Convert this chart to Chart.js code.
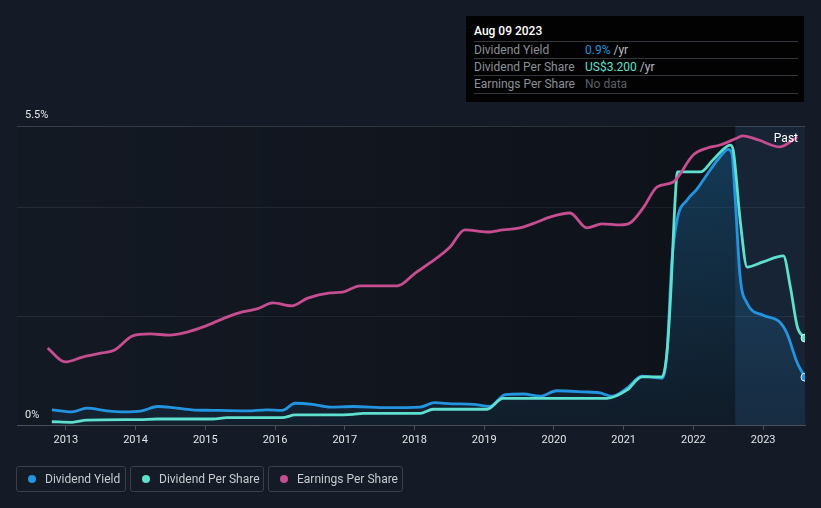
<!DOCTYPE html>
<html>
<head>
<meta charset="utf-8">
<script src="https://cdn.jsdelivr.net/npm/chart.js@4.4.0/dist/chart.umd.min.js"></script>
<style>
  html, body { margin: 0; padding: 0; background: #151b26; }
  body { width: 821px; height: 508px; position: relative; overflow: hidden; font-family: Roboto, "Open Sans", sans-serif; }
  #wrap { position: absolute; left: 0; top: 0; width: 821px; height: 508px; }
  .tip { position: absolute; left: 466px; top: 16px; width: 338px; height: 86px; background: #020203; }
  .tip .title { position: absolute; left: 8px; top: 8px; color: #fff; font-size: 12px; font-weight: 500; }
  .tip .row { position: absolute; left: 8px; width: 324px; height: 17px; border-top: 1px solid #34373d; font-size: 12px; line-height: 17px; }
  .tip .lab { position: absolute; left: 0; color: #8c9098; }
  .tip .val { position: absolute; left: 111px; color: #b9bdc4; }
  .leg { position: absolute; top: 466px; height: 26px; border: 1px solid #3a3f49; border-radius: 3px; box-sizing: border-box; color: #c6cad0; font-size: 12px; line-height: 24px; }
  .leg i { position: absolute; left: 11px; top: 8px; width: 8px; height: 8px; border-radius: 50%; }
  .leg span { position: absolute; left: 28px; white-space: nowrap; }
</style>
</head>
<body>
<div id="wrap"><canvas id="mycanvas" width="821" height="508"></canvas></div>

<div class="tip">
  <div class="title">Aug 09 2023</div>
  <div class="row" style="top:25px"><span class="lab">Dividend Yield</span><span class="val"><b style="font-weight:400;color:#2394df">0.9%</b> /yr</span></div>
  <div class="row" style="top:42px"><span class="lab">Dividend Per Share</span><span class="val"><b style="font-weight:400;color:#5fe0cf">US$3.200</b> /yr</span></div>
  <div class="row" style="top:59px;border-bottom:1px solid #34373d"><span class="lab">Earnings Per Share</span><span class="val" style="color:#5b5f67">No data</span></div>
</div>

<div class="leg" style="left:16px;width:110px"><i style="background:#2394df"></i><span>Dividend Yield</span></div>
<div class="leg" style="left:130px;width:134px"><i style="background:#5fe0cf"></i><span>Dividend Per Share</span></div>
<div class="leg" style="left:268px;width:135px"><i style="background:#c64d8f"></i><span>Earnings Per Share</span></div>

<script>
// dividend yield (%)
var yieldYears = [2012.80, 2013.09, 2013.30, 2013.59, 2013.82, 2014.09, 2014.32, 2014.54, 2014.81, 2015.11,
  2015.60, 2015.88, 2016.10, 2016.29, 2016.54, 2016.79, 2017.12, 2017.61, 2018.08, 2018.29,
  2018.54, 2018.84, 2019.08, 2019.30, 2019.56, 2019.80, 2020.04, 2020.42, 2020.66, 2020.83,
  2021.05, 2021.26, 2021.55, 2021.62, 2021.69, 2021.77, 2021.91, 2022.05, 2022.24, 2022.38,
  2022.50, 2022.55, 2022.60, 2022.67, 2022.77, 2023.00, 2023.24, 2023.34, 2023.49, 2023.60];
var yieldValues = [0.28, 0.24, 0.31, 0.26, 0.24, 0.26, 0.34, 0.32, 0.28, 0.27,
  0.26, 0.28, 0.27, 0.40, 0.38, 0.33, 0.34, 0.32, 0.33, 0.41,
  0.39, 0.38, 0.34, 0.56, 0.57, 0.53, 0.63, 0.61, 0.59, 0.53,
  0.68, 0.90, 0.86, 1.32, 3.00, 3.80, 4.14, 4.34, 4.69, 4.93,
  5.07, 5.00, 4.14, 2.72, 2.24, 2.02, 1.89, 1.69, 1.14, 0.88];

// dividend per share (US$)
var dpsYears = [2012.80, 2013.09, 2013.30, 2014.06, 2014.31, 2015.11, 2015.31, 2016.10, 2016.29, 2016.79,
  2017.12, 2017.26, 2018.08, 2018.27, 2019.04, 2019.27, 2020.76, 2021.05, 2021.26, 2021.55,
  2021.62, 2021.67, 2021.74, 2021.77, 2022.10, 2022.28, 2022.53, 2022.57, 2022.67, 2022.77,
  2023.00, 2023.29, 2023.39, 2023.49, 2023.60];
var dpsValues = [0.12, 0.10, 0.18, 0.20, 0.22, 0.22, 0.27, 0.27, 0.37, 0.37,
  0.39, 0.43, 0.43, 0.58, 0.58, 0.98, 0.98, 1.29, 1.77, 1.77,
  2.65, 4.60, 8.39, 9.31, 9.31, 9.75, 10.30, 10.12, 7.54, 5.81,
  6.00, 6.22, 5.08, 3.61, 3.20];

// earnings per share (US$)
var epsYears = [2012.74, 2012.99, 2013.24, 2013.52, 2013.70, 2013.96, 2014.21, 2014.49, 2014.74, 2014.97,
  2015.31, 2015.53, 2015.74, 2015.97, 2016.24, 2016.47, 2016.79, 2016.97, 2017.22, 2017.53,
  2017.76, 2018.01, 2018.22, 2018.51, 2018.72, 2019.04, 2019.27, 2019.51, 2019.76, 2019.94,
  2020.23, 2020.47, 2020.69, 2020.95, 2021.09, 2021.28, 2021.48, 2021.71, 2022.00, 2022.20,
  2022.38, 2022.63, 2022.71, 2022.93, 2023.24, 2023.49];
var epsValues = [2.83, 2.32, 2.50, 2.65, 2.76, 3.28, 3.35, 3.31, 3.42, 3.61,
  3.97, 4.16, 4.27, 4.49, 4.38, 4.67, 4.86, 4.89, 5.12, 5.12,
  5.12, 5.59, 5.96, 6.55, 7.18, 7.10, 7.18, 7.25, 7.47, 7.65,
  7.80, 7.25, 7.40, 7.36, 7.43, 7.99, 8.76, 8.94, 9.94, 10.19,
  10.30, 10.56, 10.64, 10.49, 10.23, 10.60];

var yearTicks = [2013, 2014, 2015, 2016, 2017, 2018, 2019, 2020, 2021, 2022, 2023];
var yieldTicks = [0, 2, 4, 5.5];
var pastStart = 2022.6;

function toPoints(xs, ys) {
  var out = [];
  for (var i = 0; i < xs.length; i++) out.push({x: xs[i], y: ys[i]});
  return out;
}
function lastDot(n) {
  return function(ctx) { return ctx.dataIndex === n - 1 ? 4 : 0; };
}

var plotBg = {
  id: 'plotBg',
  beforeDatasetsDraw: function(chart) {
    var a = chart.chartArea, c = chart.ctx;
    var px = chart.scales.x.getPixelForValue(pastStart);
    c.save();
    var g = c.createLinearGradient(a.left, 0, px, 0);
    g.addColorStop(0, 'rgba(0,0,0,0.05)');
    g.addColorStop(1, 'rgba(0,0,0,0.32)');
    c.fillStyle = g;
    c.fillRect(a.left, a.top, px - a.left, a.bottom - a.top);
    c.fillStyle = 'rgba(35,120,190,0.10)';
    c.fillRect(px, a.top, a.right - px, a.bottom - a.top);
    c.restore();
  },
  afterDraw: function(chart) {
    var a = chart.chartArea, c = chart.ctx, y = chart.scales.y;
    c.save();
    c.font = '11px Roboto';
    c.fillStyle = '#e6e8eb';
    c.textBaseline = 'alphabetic';
    c.fillText('5.5%', 25, y.getPixelForValue(5.5) - 8);
    c.fillText('0%', 25, y.getPixelForValue(0) - 7);
    c.fillStyle = '#ffffff';
    c.font = '12px Roboto';
    c.textAlign = 'right';
    c.fillText('Past', a.right - 7, a.top + 16);
    c.restore();
  }
};

var ctx = document.getElementById('mycanvas');
var chart = new Chart(ctx, {
  type: 'line',
  data: {
    datasets: [
      {
        label: 'Earnings Per Share',
        data: toPoints(epsYears, epsValues),
        yAxisID: 'y2',
        borderColor: '#c64d8f',
        borderWidth: 2.8,
        pointRadius: 0,
        cubicInterpolationMode: 'monotone',
        fill: false,
        order: 1
      },
      {
        label: 'Dividend Per Share',
        data: toPoints(dpsYears, dpsValues),
        yAxisID: 'y2',
        borderColor: '#5fe0cf',
        borderWidth: 2.8,
        pointRadius: lastDot(dpsYears.length),
        pointBackgroundColor: '#5fe0cf',
        pointBorderColor: 'rgba(255,255,255,0.85)',
        pointBorderWidth: 1,
        cubicInterpolationMode: 'monotone',
        fill: false,
        order: 2
      },
      {
        label: 'Dividend Yield',
        data: toPoints(yieldYears, yieldValues),
        yAxisID: 'y',
        borderColor: '#2394df',
        borderWidth: 2.8,
        pointRadius: lastDot(yieldYears.length),
        pointBackgroundColor: '#2394df',
        pointBorderColor: 'rgba(255,255,255,0.85)',
        pointBorderWidth: 1,
        cubicInterpolationMode: 'monotone',
        fill: 'origin',
        backgroundColor: function(c) {
          var a = c.chart.chartArea;
          if (!a) return 'rgba(35,148,223,0.15)';
          var g = c.chart.ctx.createLinearGradient(0, a.top, 0, a.bottom);
          g.addColorStop(0, 'rgba(35,148,223,0.32)');
          g.addColorStop(1, 'rgba(35,148,223,0.07)');
          return g;
        },
        order: 3
      }
    ]
  },
  options: {
    responsive: false,
    animation: false,
    layout: { padding: { left: 17, right: 16, top: 126, bottom: 53 } },
    plugins: { legend: { display: false }, tooltip: { enabled: false } },
    scales: {
      x: {
        type: 'linear',
        min: 2012.3,
        max: 2023.6,
        afterBuildTicks: function(s) { s.ticks = yearTicks.map(function(v) { return {value: v}; }); },
        afterFit: function(s) { s.height = 30; },
        grid: { drawOnChartArea: false, drawTicks: true, tickLength: 5, color: '#4a4f59' },
        border: { color: '#4a4f59', width: 1 },
        ticks: {
          color: '#e2e4e8',
          font: { family: 'Roboto', size: 11 },
          padding: 4,
          maxRotation: 0,
          callback: function(v) { return String(v); }
        }
      },
      y: {
        min: 0,
        max: 5.5,
        afterBuildTicks: function(s) { s.ticks = yieldTicks.map(function(v) { return {value: v}; }); },
        afterFit: function(s) { s.width = 0; },
        ticks: { display: false },
        border: { display: false },
        grid: {
          drawTicks: false,
          color: function(c) {
            var v = c.tick ? c.tick.value : 0;
            if (v === 0) return 'rgba(0,0,0,0)';
            if (v === 5.5) return '#3c414b';
            return '#272c36';
          }
        }
      },
      y2: { display: false, min: 0, max: 11.0 }
    }
  },
  plugins: [plotBg]
});
</script>
</body>
</html>
